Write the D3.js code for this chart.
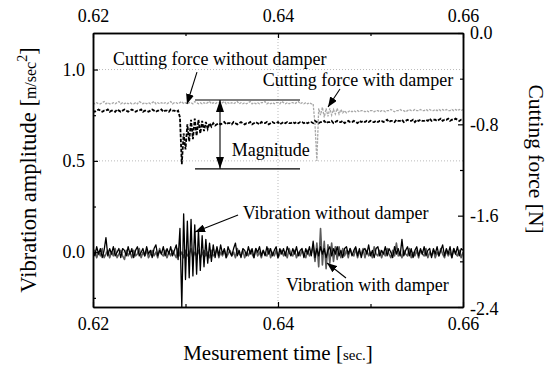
<!DOCTYPE html>
<html><head><meta charset="utf-8">
<script src="https://cdn.jsdelivr.net/npm/d3@7"></script>
<style>
html,body{margin:0;padding:0;background:#fff;}
svg{display:block;font-family:"Liberation Serif","Times New Roman",serif;}
</style></head>
<body><svg id="c" width="550" height="367"></svg>
<script>
// ---------- data ----------
const timeStart = 0.62, timeStep = 0.0002;   // sampling of all series
const xMajorTicks = [0.62, 0.64, 0.66];
const xMinorTicks = [0.63, 0.65];
const leftMajorTicks = [0.0, 0.5, 1.0];
const leftMinorTicks = [-0.25, 0.25, 0.75];
const rightMajorTicks = [0.0, -0.8, -1.6, -2.4];
const rightMinorTicks = [-0.4, -1.2, -2.0];

// Vibration without damper [m/sec^2]
const vibrationWithout = [
 0.01,-0.02,0.03,-0.01,0.02,-0.03,0.01,0.08,-0.02,0.02,
 -0.01,0.03,-0.02,0.00,0.02,-0.03,0.02,0.01,-0.02,0.03,
 -0.01,0.02,-0.03,0.01,0.03,-0.02,0.00,0.02,-0.02,0.03,
 -0.01,0.01,-0.03,0.02,0.04,-0.02,0.01,-0.01,0.03,-0.02,
 0.02,-0.01,0.03,-0.02,0.01,0.04,-0.04,0.13,-0.30,0.21,
 -0.15,0.17,-0.14,0.18,-0.13,0.15,-0.12,0.12,-0.10,0.09,
 -0.08,0.07,-0.06,0.05,-0.05,0.04,-0.03,0.03,-0.02,0.04,
 -0.01,0.02,-0.03,0.03,0.00,-0.02,0.02,0.05,-0.02,0.01,
 -0.03,0.02,0.01,-0.02,0.03,-0.01,0.02,-0.03,0.02,0.00,
 0.03,-0.02,0.01,-0.02,0.03,-0.01,0.02,-0.02,0.01,0.03,
 -0.03,0.02,-0.01,0.02,-0.02,0.03,0.00,-0.02,0.02,-0.01,
 0.03,-0.02,0.01,0.02,-0.03,0.02,-0.01,0.03,-0.02,0.06,
 -0.03,0.02,-0.02,0.03,-0.01,0.02,-0.03,0.01,0.03,-0.02,
 0.02,-0.01,0.03,-0.02,0.01,-0.03,0.02,0.03,-0.01,0.02,
 -0.02,0.01,0.03,-0.02,0.02,-0.03,0.01,0.02,-0.01,0.04,
 -0.02,0.01,-0.03,0.02,0.03,-0.02,0.01,-0.01,0.03,-0.02,
 0.02,0.00,-0.03,0.03,-0.01,0.02,-0.02,0.07,-0.02,0.01,
 0.03,-0.02,0.02,-0.03,0.01,0.03,-0.02,0.02,-0.01,0.03,
 -0.02,0.01,0.02,-0.03,0.02,-0.01,0.03,-0.02,0.01,0.04,
 -0.02,0.02,-0.01,0.03,-0.03,0.02,-0.01,0.03,-0.02,0.02,
 0.01
];
// Vibration with damper [m/sec^2]
const vibrationWith = [
 -0.02,0.01,-0.03,0.00,-0.02,0.02,-0.03,-0.01,0.01,-0.03,
 0.00,-0.02,0.02,-0.03,-0.01,0.01,-0.02,-0.04,0.01,-0.02,
 0.00,-0.03,0.01,-0.02,-0.01,0.02,-0.03,0.00,-0.02,0.01,
 -0.03,-0.01,0.01,-0.02,0.00,-0.03,0.02,-0.01,-0.02,0.01,
 -0.03,0.00,-0.02,0.01,-0.01,-0.03,0.02,-0.02,0.00,-0.03,
 0.01,-0.02,-0.01,0.02,-0.03,0.00,-0.02,0.01,-0.03,-0.01,
 0.01,-0.02,0.00,-0.03,0.01,-0.02,-0.01,0.02,-0.03,0.00,
 -0.02,0.01,-0.03,-0.01,0.01,-0.02,0.00,-0.03,0.02,-0.01,
 -0.02,0.01,-0.03,0.00,-0.02,0.01,-0.01,-0.03,0.02,-0.02,
 0.00,-0.03,0.01,-0.01,-0.02,0.02,-0.03,0.00,-0.02,0.01,
 -0.03,-0.01,0.01,-0.02,0.00,-0.03,0.02,-0.01,-0.02,0.01,
 -0.03,0.00,-0.02,0.01,-0.01,-0.03,0.01,-0.02,0.00,0.03,
 -0.05,0.05,-0.08,0.13,-0.07,0.06,-0.09,0.04,-0.06,0.05,
 -0.05,0.03,-0.04,0.03,-0.03,0.02,-0.02,0.01,-0.03,0.02,
 -0.01,-0.02,0.02,-0.03,0.00,-0.01,0.02,-0.03,0.01,-0.02,
 0.00,-0.03,0.03,-0.01,-0.02,0.01,-0.03,0.00,-0.02,0.02,
 -0.01,-0.03,0.01,-0.02,0.05,-0.02,0.00,-0.03,0.01,-0.01,
 -0.02,0.02,-0.03,0.00,-0.02,0.01,-0.03,0.01,-0.01,-0.02,
 0.02,-0.03,0.00,-0.02,0.01,-0.03,0.00,-0.02,0.02,-0.01,
 -0.03,0.01,-0.02,0.00,-0.03,0.02,-0.01,-0.02,0.01,-0.03,
 0.00
];
// Cutting force without damper [N]
const forceWithout = [
 -0.68,-0.69,-0.68,-0.67,-0.68,-0.69,-0.68,-0.68,-0.67,-0.69,
 -0.68,-0.68,-0.69,-0.67,-0.68,-0.69,-0.68,-0.67,-0.68,-0.69,
 -0.68,-0.67,-0.68,-0.69,-0.68,-0.68,-0.67,-0.69,-0.68,-0.68,
 -0.69,-0.68,-0.67,-0.68,-0.69,-0.68,-0.68,-0.67,-0.69,-0.68,
 -0.68,-0.69,-0.67,-0.68,-0.68,-0.69,-0.68,-0.74,-1.15,-0.88,
 -1.02,-0.80,-0.95,-0.76,-0.93,-0.75,-0.90,-0.76,-0.88,-0.77,
 -0.86,-0.78,-0.84,-0.79,-0.82,-0.79,-0.81,-0.80,-0.79,-0.80,
 -0.79,-0.78,-0.80,-0.79,-0.79,-0.80,-0.78,-0.79,-0.80,-0.79,
 -0.78,-0.79,-0.80,-0.79,-0.79,-0.78,-0.80,-0.79,-0.78,-0.79,
 -0.80,-0.78,-0.79,-0.79,-0.78,-0.80,-0.79,-0.78,-0.79,-0.79,
 -0.78,-0.80,-0.79,-0.78,-0.79,-0.78,-0.79,-0.79,-0.78,-0.79,
 -0.78,-0.79,-0.78,-0.78,-0.79,-0.78,-0.79,-0.78,-0.78,-0.79,
 -0.77,-0.78,-0.79,-0.78,-0.78,-0.77,-0.79,-0.78,-0.78,-0.77,
 -0.79,-0.78,-0.77,-0.78,-0.78,-0.77,-0.79,-0.78,-0.77,-0.78,
 -0.78,-0.77,-0.78,-0.79,-0.77,-0.78,-0.77,-0.78,-0.77,-0.78,
 -0.77,-0.78,-0.78,-0.77,-0.78,-0.77,-0.77,-0.78,-0.77,-0.76,
 -0.78,-0.77,-0.77,-0.78,-0.76,-0.77,-0.77,-0.76,-0.78,-0.77,
 -0.76,-0.77,-0.77,-0.76,-0.78,-0.76,-0.77,-0.76,-0.77,-0.77,
 -0.76,-0.77,-0.75,-0.77,-0.76,-0.76,-0.77,-0.76,-0.75,-0.77,
 -0.76,-0.76,-0.75,-0.77,-0.76,-0.76,-0.75,-0.76,-0.77,-0.76,
 -0.76
];
// Cutting force with damper [N]
const forceWith = [
 -0.61,-0.62,-0.61,-0.62,-0.62,-0.61,-0.60,-0.62,-0.61,-0.62,
 -0.62,-0.61,-0.62,-0.61,-0.60,-0.62,-0.61,-0.62,-0.61,-0.62,
 -0.61,-0.62,-0.62,-0.61,-0.62,-0.60,-0.61,-0.62,-0.61,-0.62,
 -0.61,-0.62,-0.61,-0.60,-0.62,-0.61,-0.62,-0.61,-0.62,-0.61,
 -0.62,-0.61,-0.60,-0.62,-0.61,-0.61,-0.62,-0.61,-0.60,-0.62,
 -0.61,-0.62,-0.61,-0.61,-0.62,-0.60,-0.61,-0.62,-0.61,-0.62,
 -0.61,-0.62,-0.61,-0.60,-0.62,-0.61,-0.62,-0.61,-0.61,-0.62,
 -0.61,-0.60,-0.62,-0.61,-0.62,-0.61,-0.62,-0.61,-0.60,-0.62,
 -0.61,-0.62,-0.61,-0.62,-0.61,-0.60,-0.62,-0.61,-0.62,-0.61,
 -0.62,-0.61,-0.61,-0.60,-0.62,-0.61,-0.62,-0.61,-0.62,-0.61,
 -0.61,-0.62,-0.60,-0.61,-0.62,-0.61,-0.62,-0.61,-0.61,-0.62,
 -0.61,-0.60,-0.62,-0.61,-0.62,-0.61,-0.62,-0.61,-0.62,-0.62,
 -0.80,-1.12,-0.66,-0.72,-0.65,-0.74,-0.66,-0.73,-0.66,-0.72,
 -0.67,-0.71,-0.66,-0.71,-0.67,-0.70,-0.68,-0.70,-0.69,-0.68,
 -0.69,-0.68,-0.69,-0.68,-0.69,-0.68,-0.68,-0.69,-0.68,-0.69,
 -0.68,-0.68,-0.69,-0.68,-0.68,-0.69,-0.68,-0.68,-0.69,-0.68,
 -0.68,-0.67,-0.68,-0.69,-0.68,-0.68,-0.67,-0.68,-0.68,-0.69,
 -0.68,-0.67,-0.68,-0.68,-0.67,-0.68,-0.68,-0.67,-0.68,-0.68,
 -0.67,-0.68,-0.67,-0.68,-0.68,-0.67,-0.68,-0.67,-0.68,-0.67,
 -0.68,-0.67,-0.68,-0.68,-0.67,-0.68,-0.67,-0.68,-0.67,-0.68,
 -0.67
];
// annotations: [time, value] on the axis noted
const labels = [
 {text:"Cutting force without damper", axis:"R", t:0.62216, v:-0.280, arrow:[[0.63124,-0.342],[0.63016,-0.622]]},
 {text:"Cutting force with damper",    axis:"R", t:0.63835, v:-0.464, arrow:[[0.64670,-0.490],[0.64541,-0.648]]},
 {text:"Vibration without damper",     axis:"L", t:0.63618, v:0.182,  arrow:[[0.63568,0.204],[0.63103,0.111]]},
 {text:"Vibration with damper",        axis:"L", t:0.64086, v:-0.212, arrow:[[0.64735,-0.141],[0.64530,-0.059]]}
];
const magnitude = {tFrom:0.63103, tTo:0.64238, tArrow:0.63373, top:-0.587, bottom:-1.19, label:"Magnitude", tLabel:0.6350, vLabel:-1.077};

// ---------- chart ----------
const svg = d3.select("#c");
const L=93, R=463, T=33, B=307;
const x = d3.scaleLinear([0.62,0.66],[L,R]);
const yL = d3.scaleLinear([-0.3,1.2],[B,T]);
const yR = d3.scaleLinear([-2.4,0],[B,T]);
const tOf = i => timeStart + i*timeStep;

svg.append("defs").append("clipPath").attr("id","clip")
  .append("rect").attr("x",L).attr("y",T).attr("width",R-L).attr("height",B-T);
const defs = svg.select("defs");
defs.append("marker").attr("id","ah").attr("viewBox","0 0 10 8").attr("refX",10).attr("refY",4)
  .attr("markerWidth",10).attr("markerHeight",8).attr("markerUnits","userSpaceOnUse").attr("orient","auto-start-reverse")
  .append("path").attr("d","M0,0 L10,4 L0,8 Z").attr("fill","#000");
defs.append("marker").attr("id","ah2").attr("viewBox","0 0 12 8").attr("refX",12).attr("refY",4)
  .attr("markerWidth",12).attr("markerHeight",8).attr("markerUnits","userSpaceOnUse").attr("orient","auto-start-reverse")
  .append("path").attr("d","M0,0 L12,4 L0,8 Z").attr("fill","#000");

// grid
const grid = svg.append("g").attr("stroke","#bbb").attr("stroke-width",1).attr("stroke-dasharray","1,2");
grid.selectAll(".gy").data(leftMajorTicks).join("line")
  .attr("x1",L).attr("x2",R).attr("y1",d=>yL(d)).attr("y2",d=>yL(d));
grid.selectAll(".gx").data([0.64]).join("line")
  .attr("y1",T).attr("y2",B).attr("x1",d=>x(d)).attr("x2",d=>x(d));

const plot = svg.append("g").attr("clip-path","url(#clip)");
const lineL = d3.line().x((d,i)=>x(tOf(i))).y(d=>yL(d));
const lineR = d3.line().x((d,i)=>x(tOf(i))).y(d=>yR(d));

plot.append("path").datum(vibrationWith).attr("d",lineL).attr("fill","none")
  .attr("stroke","#5a5a5a").attr("stroke-width",1.6).attr("stroke-linejoin","round");
plot.append("path").datum(vibrationWithout).attr("d",lineL).attr("fill","none")
  .attr("stroke","#000").attr("stroke-width",1.3).attr("stroke-linejoin","round");
plot.append("path").datum(forceWith).attr("d",lineR).attr("fill","none")
  .attr("stroke","#a8a8a8").attr("stroke-width",1.3).attr("stroke-dasharray","2.5,1.2");
plot.append("path").datum(forceWithout).attr("d",lineR).attr("fill","none")
  .attr("stroke","#000").attr("stroke-width",1.8).attr("stroke-dasharray","3.5,1.5");

// axes
function styleAxis(g){
  g.select(".domain").attr("stroke","#000").attr("stroke-width",1.5);
  g.selectAll(".tick line").attr("stroke","#000").attr("stroke-width",1.2);
  g.selectAll("text").attr("font-family","Liberation Serif, Times New Roman, serif").attr("font-size",18).attr("fill","#000");
}
const fmt2 = d=>d.toFixed(2), fmt1 = d=>d.toFixed(1);
svg.append("g").attr("transform",`translate(0,${B})`)
  .call(d3.axisBottom(x).tickValues(xMajorTicks).tickFormat(fmt2).tickSizeInner(-5).tickSizeOuter(0).tickPadding(10)).call(styleAxis);
svg.append("g").attr("transform",`translate(0,${B})`)
  .call(d3.axisBottom(x).tickValues(xMinorTicks).tickFormat("").tickSizeInner(-3).tickSizeOuter(0)).call(styleAxis);
svg.append("g").attr("transform",`translate(0,${T})`)
  .call(d3.axisTop(x).tickValues(xMajorTicks).tickFormat(fmt2).tickSizeInner(-5).tickSizeOuter(0).tickPadding(11)).call(styleAxis);
svg.append("g").attr("transform",`translate(0,${T})`)
  .call(d3.axisTop(x).tickValues(xMinorTicks).tickFormat("").tickSizeInner(-3).tickSizeOuter(0)).call(styleAxis);
svg.append("g").attr("transform",`translate(${L},0)`)
  .call(d3.axisLeft(yL).tickValues(leftMajorTicks).tickFormat(fmt1).tickSizeInner(-5).tickSizeOuter(0).tickPadding(8)).call(styleAxis);
svg.append("g").attr("transform",`translate(${L},0)`)
  .call(d3.axisLeft(yL).tickValues(leftMinorTicks).tickFormat("").tickSizeInner(-3).tickSizeOuter(0)).call(styleAxis);
const rAx = svg.append("g").attr("transform",`translate(${R},0)`)
  .call(d3.axisRight(yR).tickValues(rightMajorTicks).tickFormat(fmt1).tickSizeInner(-5).tickSizeOuter(0).tickPadding(7)).call(styleAxis);
rAx.selectAll(".tick").filter(d=>d===-2.4).select("text").attr("dy","0.42em");
svg.append("g").attr("transform",`translate(${R},0)`)
  .call(d3.axisRight(yR).tickValues(rightMinorTicks).tickFormat("").tickSizeInner(-3).tickSizeOuter(0)).call(styleAxis);

// annotations
const ann = svg.append("g").attr("font-size",18).attr("fill","#000");
labels.forEach(a=>{
  const ys = a.axis==="R"? yR : yL;
  ann.append("text").attr("x",x(a.t)).attr("y",ys(a.v)).text(a.text);
  ann.append("line").attr("x1",x(a.arrow[0][0])).attr("y1",ys(a.arrow[0][1]))
    .attr("x2",x(a.arrow[1][0])).attr("y2",ys(a.arrow[1][1]))
    .attr("stroke","#000").attr("stroke-width",1.1).attr("marker-end","url(#ah)");
});
[magnitude.top, magnitude.bottom].forEach(v=>{
  ann.append("line").attr("x1",x(magnitude.tFrom)).attr("x2",x(magnitude.tTo))
    .attr("y1",yR(v)).attr("y2",yR(v)).attr("stroke","#000").attr("stroke-width",1.1);
});
ann.append("line").attr("x1",x(magnitude.tArrow)).attr("x2",x(magnitude.tArrow))
  .attr("y1",yR(magnitude.top)).attr("y2",yR(magnitude.bottom)).attr("stroke","#000").attr("stroke-width",1.1)
  .attr("marker-start","url(#ah2)").attr("marker-end","url(#ah2)");
ann.append("text").attr("x",x(magnitude.tLabel)).attr("y",yR(magnitude.vLabel)).text(magnitude.label);

// axis titles
const lt = svg.append("text").attr("transform","translate(36,170) rotate(-90)").attr("text-anchor","middle").attr("font-size",22.5);
lt.append("tspan").text("Vibration amplitude [");
lt.append("tspan").attr("font-size",16).text("m/sec");
lt.append("tspan").attr("font-size",14).attr("dy",-9).text("2");
lt.append("tspan").attr("dy",9).text("]");
svg.append("text").attr("transform","translate(529,159) rotate(90)").attr("text-anchor","middle").attr("font-size",21.5)
  .text("Cutting force [N]");
const bt = svg.append("text").attr("x",278).attr("y",360).attr("text-anchor","middle").attr("font-size",21);
bt.append("tspan").text("Mesurement time [");
bt.append("tspan").attr("font-size",15).text("sec.");
bt.append("tspan").text("]");
</script></body></html>
